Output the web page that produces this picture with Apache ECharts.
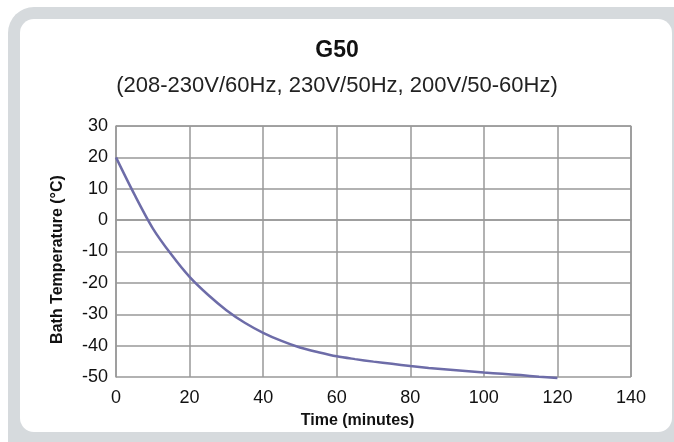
<!DOCTYPE html>
<html><head><meta charset="utf-8">
<script src="https://cdn.jsdelivr.net/npm/echarts@6/dist/echarts.min.js"></script>
<style>html,body{margin:0;padding:0;background:#fff}#c{width:674px;height:442px}</style>
</head><body><div id="c"></div>
<script>
const times = [0, 5, 10, 15, 20, 25, 30, 35, 40, 45, 50, 55, 60, 65, 70, 75, 80, 85, 90, 95, 100, 105, 110, 115, 120];
const temps = [20, 8.2, -2.6, -10.9, -18.1, -23.8, -28.7, -32.7, -35.9, -38.5, -40.6, -42.1, -43.4, -44.3, -45.1, -45.8, -46.5, -47.1, -47.6, -48.1, -48.6, -49.0, -49.4, -49.9, -50.3];
const xTicks = [0, 20, 40, 60, 80, 100, 120, 140];
const yTicks = [-50, -40, -30, -20, -10, 0, 10, 20, 30];
const titleText = 'G50';
const subtitleText = '(208-230V/60Hz, 230V/50Hz, 200V/50-60Hz)';

const chart = echarts.init(document.getElementById('c'));
const ff = '"Liberation Sans", Arial, sans-serif';
chart.setOption({
  animation: false,
  backgroundColor: '#fff',
  graphic: [
    {type: 'rect', z: -10, shape: {x: 8, y: 7, width: 700, height: 470, r: 26}, style: {fill: '#d6dadd'}},
    {type: 'rect', z: -9, shape: {x: 20, y: 19, width: 652, height: 413, r: 14}, style: {fill: '#ffffff'}}
  ],
  title: [
    {text: titleText, left: 'center', top: 34, textStyle: {fontFamily: ff, fontSize: 23, fontWeight: 'bold', color: '#111'}},
    {text: subtitleText, left: 'center', top: 70, textStyle: {fontFamily: ff, fontSize: 22, fontWeight: 'normal', color: '#222'}}
  ],
  grid: {left: 116, right: 43, top: 126, bottom: 65, containLabel: false},
  xAxis: {
    type: 'value', min: 0, max: 140, interval: 20,
    name: 'Time (minutes)', nameLocation: 'middle', nameGap: 36,
    nameTextStyle: {fontFamily: ff, fontSize: 16, fontWeight: 'bold', color: '#111', padding: [0, 32, 0, 0]},
    axisLine: {show: true, lineStyle: {color: '#999', width: 1.5}},
    axisTick: {show: false},
    axisLabel: {fontFamily: ff, fontSize: 18, color: '#111', margin: 12},
    splitLine: {show: true, lineStyle: {color: '#999', width: 1.5}}
  },
  yAxis: {
    type: 'value', min: -50, max: 30, interval: 10,
    name: 'Bath Temperature (°C)', nameLocation: 'middle', nameGap: 50,
    nameTextStyle: {fontFamily: ff, fontSize: 16, fontWeight: 'bold', color: '#111', padding: [0, 16, 0, 0]},
    axisLine: {show: true, lineStyle: {color: '#999', width: 1.5}},
    axisTick: {show: false},
    axisLabel: {fontFamily: ff, fontSize: 18, color: '#111', margin: 8},
    splitLine: {show: true, lineStyle: {color: '#999', width: 1.5}}
  },
  series: [{
    type: 'line', data: times.map((t, i) => [t, temps[i]]),
    smooth: 0.3, showSymbol: false, clip: false,
    lineStyle: {color: '#6d6ca8', width: 2.5}, z: 3
  }, {
    type: 'line', data: [[0, 30], [140, 30], [140, -50]], showSymbol: false, silent: true,
    lineStyle: {color: '#999', width: 1.5}, z: 1
  }]
});
</script></body></html>
